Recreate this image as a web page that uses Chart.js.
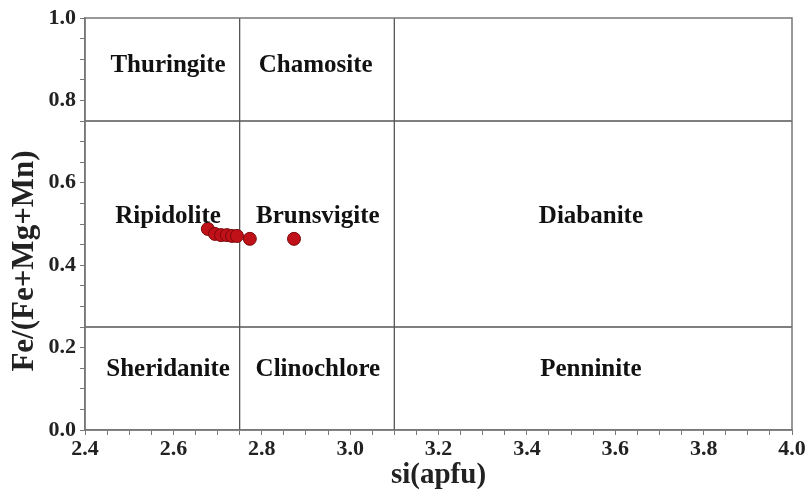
<!DOCTYPE html>
<html>
<head>
<meta charset="utf-8">
<script src="https://cdn.jsdelivr.net/npm/chart.js@4"></script>
<style>
html,body{margin:0;padding:0;background:#fff;}
#wrap{width:807px;height:493px;}
</style>
</head>
<body>
<div id="wrap"><canvas id="c" width="807" height="493"></canvas></div>
<script>
const siValues = [2.678, 2.694, 2.708, 2.721, 2.733, 2.744, 2.773, 2.873];
const feRatio  = [0.488, 0.476, 0.473, 0.473, 0.471, 0.471, 0.464, 0.464];
const xBoundaries = [2.75, 3.1];
const yBoundaries = [0.25, 0.75];
const regionNames = ['Thuringite','Chamosite','Ripidolite','Brunsvigite','Diabanite','Sheridanite','Clinochlore','Penninite'];
const regionX = [2.588, 2.922, 2.588, 2.927, 3.545, 2.588, 2.927, 3.545];
const regionY = [0.885, 0.885, 0.517, 0.517, 0.517, 0.146, 0.146, 0.146];
const xTickLabels = ['2.4','2.6','2.8','3.0','3.2','3.4','3.6','3.8','4.0'];
const yTickLabels = ['0.0','0.2','0.4','0.6','0.8','1.0'];
const xTitle = 'si(apfu)';
const yTitle = 'Fe/(Fe+Mg+Mn)';

const FONT = "'Liberation Serif','Times New Roman',serif";
const lineColor = '#555';

const datasets = [{
  type: 'scatter',
  label: 'samples',
  data: siValues.map((x, i) => ({x: x, y: feRatio[i]})),
  backgroundColor: '#c01018',
  borderColor: '#7a080c',
  borderWidth: 1,
  pointRadius: 6.5,
  order: 0
}];
xBoundaries.forEach(v => datasets.push({
  type: 'line', data: [{x: v, y: 0}, {x: v, y: 1}],
  borderColor: lineColor, borderWidth: 1.3, pointRadius: 0, order: 1
}));
yBoundaries.forEach(v => datasets.push({
  type: 'line', data: [{x: 2.4, y: v}, {x: 4.0, y: v}],
  borderColor: lineColor, borderWidth: 1.3, pointRadius: 0, order: 1
}));

const framePlugin = {
  id: 'frame',
  afterDatasetsDraw(chart) {
    const {ctx, chartArea: a, scales} = chart;
    ctx.save();
    ctx.strokeStyle = '#777';
    ctx.lineWidth = 1.5;
    ctx.strokeRect(a.left, a.top, a.right - a.left, a.bottom - a.top);
    ctx.fillStyle = '#111';
    ctx.font = "bold 25px " + FONT;
    ctx.textAlign = 'center';
    ctx.textBaseline = 'middle';
    regionNames.forEach((n, i) => {
      ctx.fillText(n, scales.x.getPixelForValue(regionX[i]), scales.y.getPixelForValue(regionY[i]));
    });
    // y-axis title
    ctx.fillStyle = '#222';
    ctx.font = "bold 31px " + FONT;
    ctx.translate(25, 261);
    ctx.rotate(-Math.PI / 2);
    ctx.fillText(yTitle, 0, 0);
    ctx.restore();
  }
};

const isMajor = (v) => Math.round(v * 100) % 20 === 0;
const labelFor = (list, v) => {
  const s = v.toFixed(1);
  return list.includes(s) ? s : '';
};

new Chart(document.getElementById('c'), {
  type: 'scatter',
  data: {datasets},
  options: {
    responsive: false,
    animation: false,
    layout: {padding: {top: 18, right: 15, left: 0, bottom: 0}},
    plugins: {legend: {display: false}, tooltip: {enabled: false}},
    scales: {
      x: {
        type: 'linear', min: 2.4, max: 4.0,
        afterFit(s) { s.height = 63; },
        border: {display: true, color: '#777', width: 1.5},
        grid: {display: true, drawOnChartArea: false, drawTicks: true, tickLength: 5, color: '#777'},
        ticks: {
          stepSize: 0.05, autoSkip: false, maxRotation: 0, padding: 1,
          color: '#222', font: {family: FONT, size: 22, weight: 'bold'},
          callback: (v) => isMajor(v) ? labelFor(xTickLabels, v) : ''
        },
        title: {display: true, text: xTitle, color: '#222', padding: {top: 0, bottom: 0},
          font: {family: FONT, size: 29, weight: 'bold'}}
      },
      y: {
        type: 'linear', min: 0, max: 1.0,
        afterFit(s) { s.width = 85; },
        border: {display: true, color: '#777', width: 1.5},
        grid: {display: true, drawOnChartArea: false, drawTicks: true, tickLength: 5, color: '#777'},
        ticks: {
          stepSize: 0.05, autoSkip: false, padding: 4,
          color: '#222', font: {family: FONT, size: 22, weight: 'bold'},
          callback: (v) => isMajor(v) ? labelFor(yTickLabels, v) : ''
        },
        title: {display: false}
      }
    }
  },
  plugins: [framePlugin]
});
</script>
</body>
</html>
